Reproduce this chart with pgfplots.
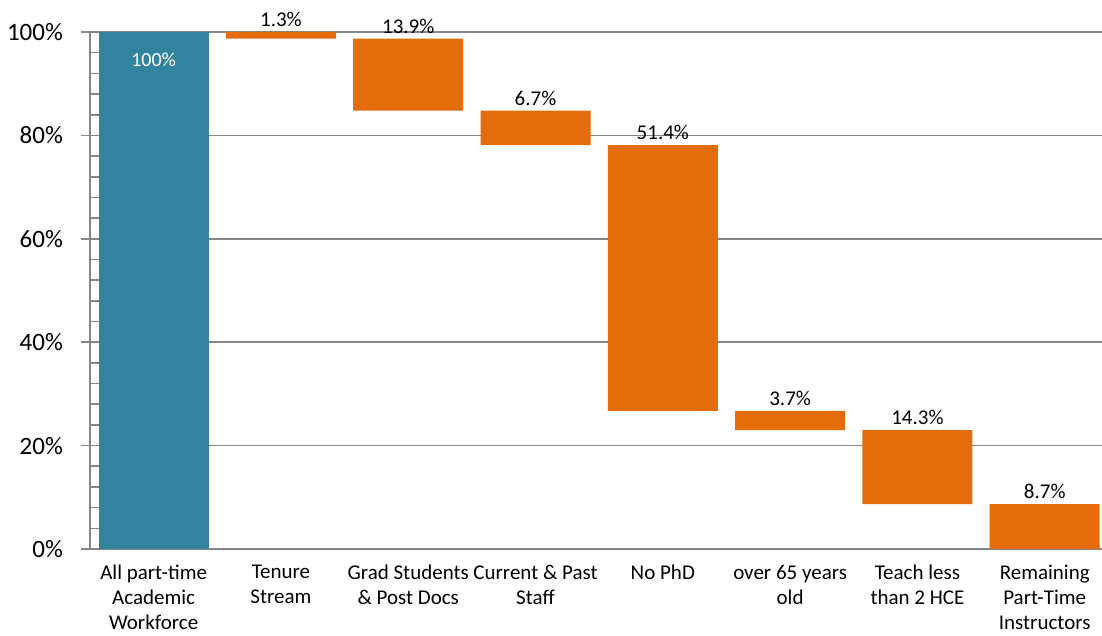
\documentclass[border=0pt]{standalone}
\usepackage{fontspec}
\setmainfont{Carlito}
\usepackage{pgfplots}
\pgfplotsset{compat=1.18}

\definecolor{barteal}{HTML}{31849B}
\definecolor{barorange}{HTML}{E46C0A}
\definecolor{gridgray}{HTML}{868686}

\begin{document}
\begin{tikzpicture}
\begin{axis}[
    scale only axis,
    width=506pt, height=258.5pt,
    ybar stacked, bar width=55pt,
    xmin=-0.5, xmax=7.45,
    ymin=0, ymax=100,
    axis x line*=bottom, axis y line*=left,
    axis line style={gridgray, line width=0.8pt},
    tick align=outside,
    major tick length=4.5pt,
    minor tick length=3pt,
    tick style={gridgray, line width=0.8pt},
    ytick={0,20,40,60,80,100},
    yticklabel={\pgfmathparse{int(\tick)}\pgfmathresult\%},
    yticklabel style={font=\fontsize{12.5}{14}\selectfont, xshift=-5.5pt},
    /pgf/number format/assume math mode=true,
    ymajorgrids,
    grid style={gridgray, line width=0.8pt},
    xtick={0,1,2,3,4,5,6,7},
    xticklabels={
        {All part-time\\Academic\\Workforce},
        {Tenure\\Stream},
        {Grad Students\\\& Post Docs},
        {Current \& Past\\Staff},
        {No PhD},
        {over 65 years\\old},
        {Teach less\\than 2 HCE},
        {Remaining\\Part-Time\\Instructors}},
    xticklabel style={align=center, font=\fontsize{10.5}{12.5}\selectfont, yshift=0pt},
    xtick style={draw=none},
    minor xtick={-0.5,0.5,1.5,2.5,3.5,4.5,5.5,6.5},
    visualization depends on={rawy \as \rawy},
    every node near coord/.append style={font=\fontsize{10.5}{12}\selectfont, black, inner sep=2.5pt},
]
% invisible base of the floating bars
\addplot[draw=none, fill=none] coordinates
    {(0,0) (1,98.7) (2,84.8) (3,78.1) (4,26.7) (5,23.0) (6,8.7) (7,0)};
% total
\addplot[draw=none, fill=barteal, point meta=explicit symbolic, nodes near coords,
    every node near coord/.append style={anchor=north, white,
        shift={(axis direction cs:0,\rawy/2)}, yshift=-7.5pt,
        font=\fontsize{10}{12}\selectfont}]
    coordinates {(0,100)[100\%] (1,0)[] (2,0)[] (3,0)[] (4,0)[] (5,0)[] (6,0)[] (7,0)[]};
% steps
\addplot[draw=none, fill=barorange, point meta=explicit symbolic, nodes near coords,
    every node near coord/.append style={anchor=south,
        shift={(axis direction cs:0,\rawy/2)}}]
    coordinates {(0,0)[] (1,1.3)[1.3\%] (2,13.9)[13.9\%] (3,6.7)[6.7\%] (4,51.4)[51.4\%]
                 (5,3.7)[3.7\%] (6,14.3)[14.3\%] (7,8.7)[8.7\%]};
% inner minor ticks on the value axis
\pgfplotsinvokeforeach{4,8,12,16,24,28,32,36,44,48,52,56,64,68,72,76,84,88,92,96}{
    \draw[gridgray, line width=0.8pt] (rel axis cs:0,#1/100) -- ++(3.5pt,0);
}
\end{axis}
\pgfresetboundingbox
\useasboundingbox (-45pt,-43.5pt) rectangle (506pt,274.5pt);
\end{tikzpicture}
\end{document}
